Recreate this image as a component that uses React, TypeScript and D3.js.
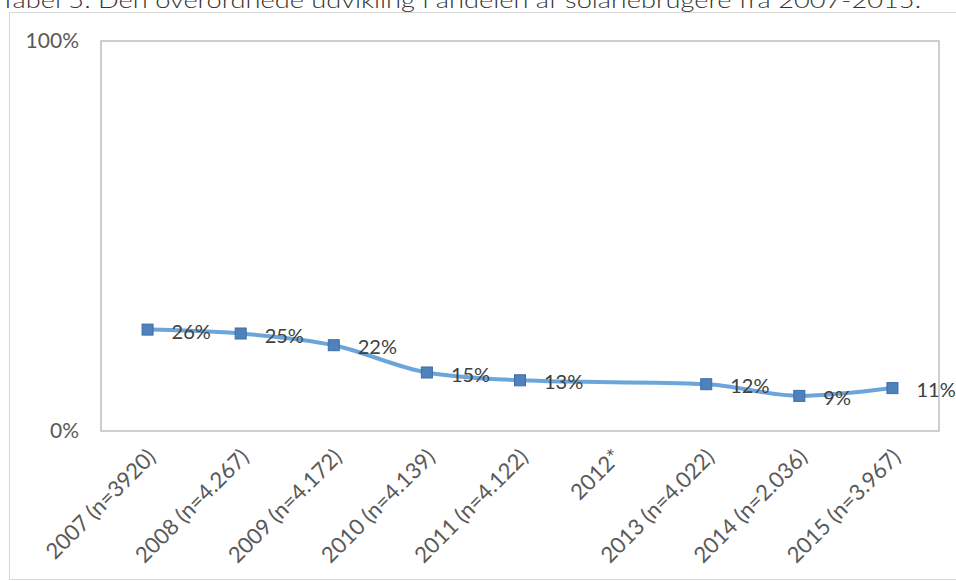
import React from "react";
import * as d3 from "d3";

const categories = [
  "2007 (n=3920)",
  "2008 (n=4.267)",
  "2009 (n=4.172)",
  "2010 (n=4.139)",
  "2011 (n=4.122)",
  "2012*",
  "2013 (n=4.022)",
  "2014 (n=2.036)",
  "2015 (n=3.967)",
];
const values: (number | null)[] = [26, 25, 22, 15, 13, null, 12, 9, 11];
const yTicks = [0, 100];
const title = "Tabel 5: Den overordnede udvikling i andelen af solariebrugere fra 2007-2015.";

const W = 956;
const H = 581;
const plot = { left: 101, right: 939, top: 41, bottom: 431 };
const font = "Lato, 'Open Sans', sans-serif";

export default function App() {
  const x = d3.scaleBand<string>().domain(categories).range([plot.left, plot.right]);
  const y = d3.scaleLinear().domain([0, 100]).range([plot.bottom, plot.top]);
  const cx = (c: string) => (x(c) as number) + x.bandwidth() / 2;

  const pts = categories
    .map((c, i) => ({ c, v: values[i] }))
    .filter((d) => d.v !== null) as { c: string; v: number }[];

  const line = d3
    .line<{ c: string; v: number }>()
    .x((d) => cx(d.c))
    .y((d) => y(d.v))
    .curve(d3.curveMonotoneX);

  return (
    <svg
      width={W}
      height={H}
      style={{ position: "absolute", left: 0, top: 0, background: "#fff" }}
    >
      <rect x={0} y={0} width={W} height={H} fill="#fff" />
      <text
        x={0}
        y={8}
        fontFamily={font}
        fontSize={22}
        fontWeight={300}
        fill="#333"
        textLength={921}
        lengthAdjust="spacingAndGlyphs"
      >
        {title}
      </text>
      {/* outer chart border */}
      <rect x={9.5} y={12.5} width={W + 10} height={H - 14} fill="none" stroke="#d9d9d9" strokeWidth={1} />
      {/* plot area border */}
      <rect
        x={plot.left}
        y={plot.top}
        width={plot.right - plot.left}
        height={plot.bottom - plot.top}
        fill="none"
        stroke="#bfbfbf"
        strokeWidth={1.5}
      />
      {yTicks.map((t) => (
        <text
          key={t}
          x={79}
          y={y(t)}
          dy="0.35em"
          textAnchor="end"
          fontFamily={font}
          fontSize={21}
          fill="#595959"
        >
          {t}%
        </text>
      ))}
      <path d={line(pts) || ""} fill="none" stroke="#5b9bd5" strokeWidth={4} opacity={0.9} />
      {pts.map((d) => (
        <rect
          key={d.c}
          x={cx(d.c) - 5.5}
          y={y(d.v) - 5.5}
          width={11}
          height={11}
          fill="#4f81bd"
          stroke="#3d6da8"
          strokeWidth={1}
        />
      ))}
      {pts.map((d) => (
        <text
          key={"l" + d.c}
          x={cx(d.c) + 24}
          y={y(d.v) + 2}
          dy="0.35em"
          fontFamily={font}
          fontSize={20}
          fill="#404040"
        >
          {d.v}%
        </text>
      ))}
      {categories.map((c) => (
        <text
          key={"c" + c}
          transform={`translate(${cx(c) + 4},${plot.bottom + 22}) rotate(-45)`}
          textAnchor="end"
          dy="0.35em"
          fontFamily={font}
          fontSize={22}
          fill="#595959"
        >
          {c}
        </text>
      ))}
    </svg>
  );
}
